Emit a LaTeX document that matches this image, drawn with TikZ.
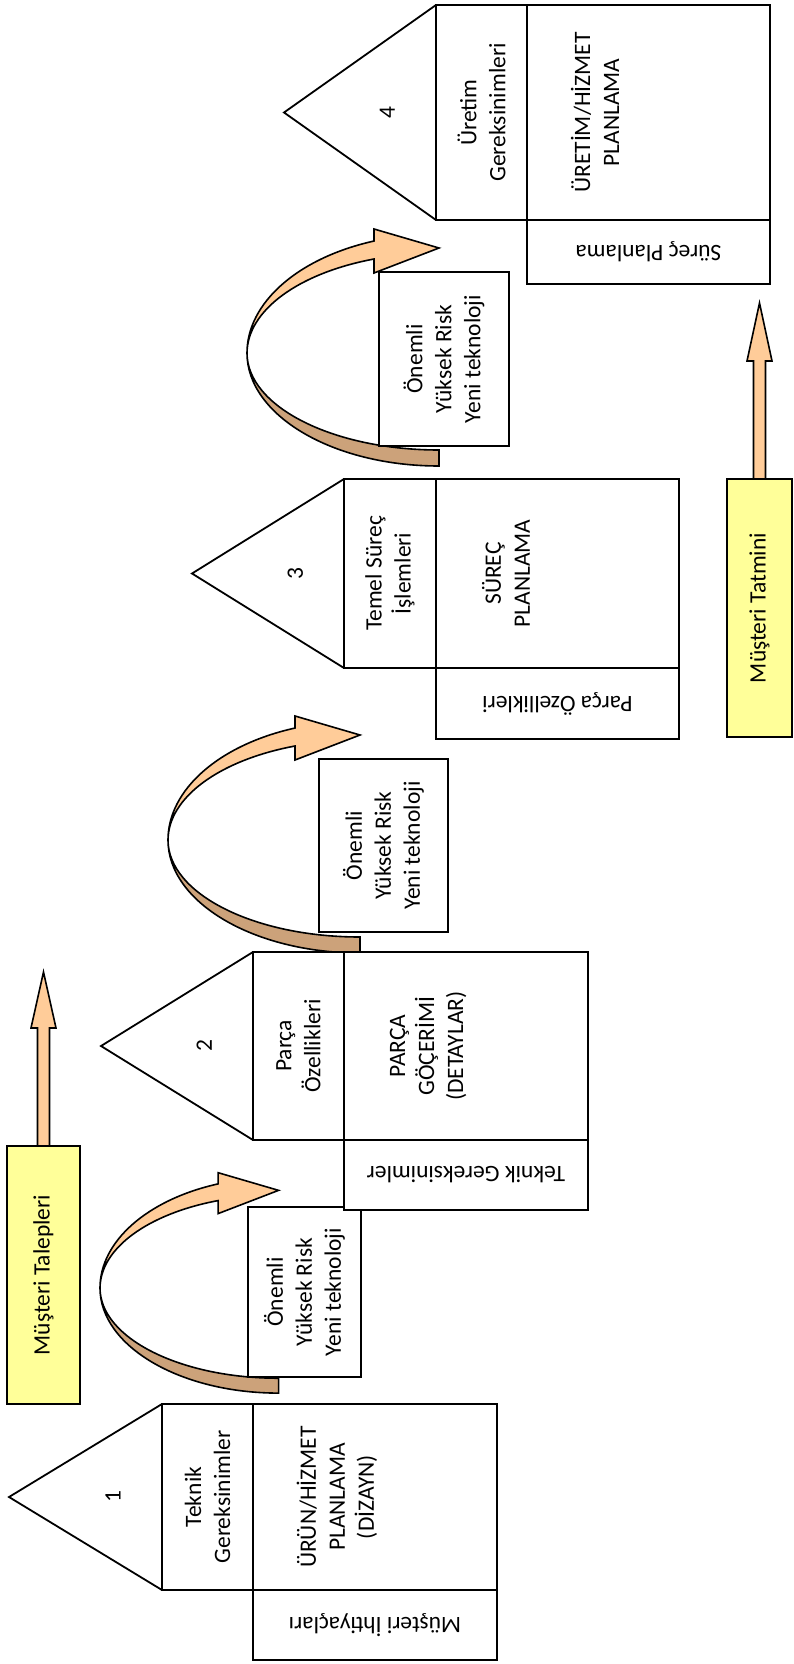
\documentclass[tikz,border=0pt]{standalone}
\usepackage{fontspec}
\setmainfont{Carlito}
\usetikzlibrary{calc}

\definecolor{ribbonfront}{RGB}{255,204,153}
\definecolor{ribbonback}{RGB}{204,162,122}
\definecolor{goalyellow}{RGB}{255,255,153}

\begin{document}
\begin{tikzpicture}[x=1pt, y=-1pt,
    every node/.style={font=\fontsize{23.5}{29}\selectfont},
    box/.style={draw, line width=1.8pt, fill=white, inner sep=0pt, outer sep=0pt},
    riskbox/.style={box, rotate=90, align=center},
    goalbox/.style={box, fill=goalyellow, rotate=90},
    upbox/.style={box, rotate=90, align=center},
    basebox/.style={box, rotate=180},
    uptext/.style={rotate=90, align=center, inner sep=0pt},
    roof/.style={draw, line width=1.8pt, line join=miter},
    blockarrow/.style={draw, line width=1.6pt, fill=ribbonfront, line join=miter},
    ribbonup/.style={draw, line width=1.6pt, fill=ribbonfront, line join=miter},
    ribbondown/.style={draw, line width=1.6pt, fill=ribbonback, line join=miter}]
    \useasboundingbox (0,0) rectangle (793,1664);

    % Define the tips of the houses
    \coordinate (apex1) at (9,1497);
    \coordinate (apex2) at (101,1046);
    \coordinate (apex3) at (192,573.5);
    \coordinate (apex4) at (284,112.5);

    % Draw the curved arrows (back side below, front side above)
    \begin{scope}[shift={(100,1288)}, scale=0.93]
        \draw[ribbondown] (0,0) arc[start angle=180, end angle=90, x radius=192, y radius=113] -- (192,97) arc[start angle=90, end angle=180, x radius=192, y radius=97] -- cycle;
        \draw[ribbonup] (0,0) arc[start angle=180, end angle=250.2, x radius=192, y radius=119] -- (127,-124) -- (192,-105) -- (127,-80) -- (127,-94) arc[start angle=250.2, end angle=180, x radius=192, y radius=100] -- cycle;
    \end{scope}
    \begin{scope}[shift={(168,840)}]
        \draw[ribbondown] (0,0) arc[start angle=180, end angle=90, x radius=192, y radius=113] -- (192,97) arc[start angle=90, end angle=180, x radius=192, y radius=97] -- cycle;
        \draw[ribbonup] (0,0) arc[start angle=180, end angle=250.2, x radius=192, y radius=119] -- (127,-124) -- (192,-105) -- (127,-80) -- (127,-94) arc[start angle=250.2, end angle=180, x radius=192, y radius=100] -- cycle;
    \end{scope}
    \begin{scope}[shift={(247,353)}]
        \draw[ribbondown] (0,0) arc[start angle=180, end angle=90, x radius=192, y radius=113] -- (192,97) arc[start angle=90, end angle=180, x radius=192, y radius=97] -- cycle;
        \draw[ribbonup] (0,0) arc[start angle=180, end angle=250.2, x radius=192, y radius=119] -- (127,-124) -- (192,-105) -- (127,-80) -- (127,-94) arc[start angle=250.2, end angle=180, x radius=192, y radius=100] -- cycle;
    \end{scope}

    % Place the risk boxes
    \node[riskbox, minimum width=170pt, minimum height=113pt] (risk1) at (304.5,1292) {Önemli\\Yüksek Risk\\Yeni teknoloji};
    \node[riskbox, minimum width=173pt, minimum height=129pt] (risk2) at (383.5,845.5) {Önemli\\Yüksek Risk\\Yeni teknoloji};
    \node[riskbox, minimum width=174pt, minimum height=130pt] (risk3) at (444,359) {Önemli\\Yüksek Risk\\Yeni teknoloji};

    % House 1
    \node[upbox, minimum width=186pt, minimum height=91pt] (top1) at (207.5,1497) {Teknik\\Gereksinimler};
    \node[upbox, minimum width=186pt, minimum height=244pt, anchor=north] (main1) at (top1.south) {};
    \node[uptext] (plan1) at ([xshift=84pt]main1.north) {ÜRÜN/HİZMET\\PLANLAMA\\(DİZAYN)};
    \node[basebox, minimum width=244pt, minimum height=70pt, anchor=south] (base1) at (main1.west) {Müşteri İhtiyaçları};
    \draw[roof] (top1.north east) -- (apex1) -- (top1.north west);
    \node[uptext] (num1) at ($(apex1)!0.68!(top1.north)$) {1};

    % House 2
    \node[upbox, minimum width=188pt, minimum height=91pt] (top2) at (298.5,1046) {Parça\\Özellikleri};
    \node[upbox, minimum width=188pt, minimum height=244pt, anchor=north] (main2) at (top2.south) {};
    \node[uptext] (plan2) at ([xshift=84pt]main2.north) {PARÇA\\GÖÇERİMİ\\(DETAYLAR)};
    \node[basebox, minimum width=244pt, minimum height=70pt, anchor=south] (base2) at (main2.west) {Teknik Gereksinimler};
    \draw[roof] (top2.north east) -- (apex2) -- (top2.north west);
    \node[uptext] (num2) at ($(apex2)!0.68!(top2.north)$) {2};

    % House 3
    \node[upbox, minimum width=189pt, minimum height=92pt] (top3) at (390,573.5) {Temel Süreç\\İşlemleri};
    \node[upbox, minimum width=189pt, minimum height=243pt, anchor=north] (main3) at (top3.south) {};
    \node[uptext] (plan3) at ([xshift=70pt]main3.north) {SÜREÇ\\PLANLAMA};
    \node[basebox, minimum width=243pt, minimum height=71pt, anchor=south] (base3) at (main3.west) {Parça Özellikleri};
    \draw[roof] (top3.north east) -- (apex3) -- (top3.north west);
    \node[uptext] (num3) at ($(apex3)!0.68!(top3.north)$) {3};

    % House 4
    \node[upbox, minimum width=215pt, minimum height=91pt] (top4) at (481.5,112.5) {Üretim\\Gereksinimleri};
    \node[upbox, minimum width=215pt, minimum height=243pt, anchor=north] (main4) at (top4.south) {};
    \node[uptext] (plan4) at ([xshift=68pt]main4.north) {ÜRETİM/HİZMET\\PLANLAMA};
    \node[basebox, minimum width=243pt, minimum height=64pt, anchor=south] (base4) at (main4.west) {Süreç Planlama};
    \draw[roof] (top4.north east) -- (apex4) -- (top4.north west);
    \node[uptext] (num4) at ($(apex4)!0.68!(top4.north)$) {4};

    % Customer boxes with their arrows
    \node[goalbox, minimum width=258pt, minimum height=73pt] (talep) at (43.5,1275) {Müşteri Talepleri};
    \node[goalbox, minimum width=258pt, minimum height=65pt] (tatmin) at (759.5,608) {Müşteri Tatmini};
    \coordinate (talepTip) at ([yshift=174pt]talep.east);
    \coordinate (tatminTip) at ([yshift=176pt]tatmin.east);
    \draw[blockarrow] ([xshift=-6pt]talep.east) -- ++(0,-118) -- ++(-6.5,0) -- (talepTip) -- ([xshift=12.5pt,yshift=118pt]talep.east) -- ++(-6.5,0) -- ([xshift=6pt]talep.east) -- cycle;
    \draw[blockarrow] ([xshift=-6pt]tatmin.east) -- ++(0,-118) -- ++(-6.5,0) -- (tatminTip) -- ([xshift=12.5pt,yshift=118pt]tatmin.east) -- ++(-6.5,0) -- ([xshift=6pt]tatmin.east) -- cycle;
\end{tikzpicture}
\end{document}
